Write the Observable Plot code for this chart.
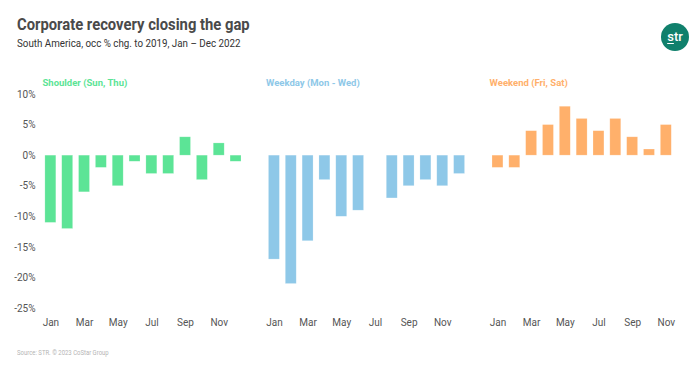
<!DOCTYPE html>
<html>
<head>
<meta charset="utf-8">
<script src="https://cdn.jsdelivr.net/npm/d3@7"></script>
<script src="https://cdn.jsdelivr.net/npm/@observablehq/plot@0.6"></script>
<style>
  html, body { margin: 0; padding: 0; background: #fff; }
  body { width: 699px; height: 369px; position: relative; overflow: hidden; font-family: Roboto, "Noto Sans", sans-serif; }
  .hdr { position: absolute; left: 17px; white-space: nowrap; transform-origin: left center; }
  #title { top: 14px; font-size: 17px; font-weight: 700; color: #4a4a4a; transform: scaleX(0.87); }
  #subtitle { top: 37px; font-size: 11px; color: #333; transform: scaleX(0.89); }
  #source { top: 349px; font-size: 7px; color: #b5b5b5; transform: scaleX(0.85); }
  #logo { position: absolute; left: 661px; top: 23px; width: 28px; height: 28px; border-radius: 50%; background: #10806c; color: #fff; font-size: 13px; font-weight: 500; text-align: center; line-height: 27px; }
  #logo .s { text-decoration: underline; text-underline-offset: 2px; }
  #chart { position: absolute; left: 0; top: 60px; }
</style>
</head>
<body>
<div id="title" class="hdr">Corporate recovery closing the gap</div>
<div id="subtitle" class="hdr">South America, occ % chg. to 2019, Jan – Dec 2022</div>
<div id="logo"><span class="s">s</span>tr</div>
<div id="chart"></div>
<div id="source" class="hdr">Source: STR. © 2023 CoStar Group</div>
<script>
const months = ["Jan","Feb","Mar","Apr","May","Jun","Jul","Aug","Sep","Oct","Nov","Dec"];
const segments = ["Shoulder (Sun, Thu)", "Weekday (Mon - Wed)", "Weekend (Fri, Sat)"];
const colors = ["#5ce496", "#8ec8e8", "#ffb06b"];
const shoulder = [-11, -12, -6, -2, -5, -1, -3, -3, 3, -4, 2, -1];
const weekday  = [-17, -21, -14, -4, -10, -9, null, -7, -5, -4, -5, -3];
const weekend  = [-2, -2, 4, 5, 8, 6, 4, 6, 3, 1, 5, null];
const xTicks = ["Jan","Mar","May","Jul","Sep","Nov"];
const yTicks = [-25, -20, -15, -10, -5, 0, 5, 10];

const series = [shoulder, weekday, weekend];
const rows = [];
series.forEach((vals, i) => {
  vals.forEach((v, j) => {
    if (v !== null) rows.push({segment: segments[i], month: months[j], value: v});
  });
});

const chart = Plot.plot({
  width: 699,
  height: 280,
  marginTop: 34,
  marginBottom: 32,
  marginLeft: 39,
  marginRight: 5,
  style: {fontFamily: "Roboto, sans-serif", fontSize: "10px", color: "#555", background: "#fff"},
  fx: {domain: segments, paddingInner: 0.07, paddingOuter: 0, round: false, axis: null},
  x: {domain: months, padding: 0.35, round: false, label: null, ticks: xTicks, tickSize: 0, tickPadding: 10},
  y: {domain: [-25, 10], ticks: yTicks, tickFormat: d => `${d}%`, tickSize: 0, tickPadding: 4, label: null},
  color: {domain: segments, range: colors},
  marks: [
    Plot.barY(rows, {fx: "segment", x: "month", y: "value", fill: "segment", stroke: "#fff", strokeOpacity: 0.35, strokeWidth: 0.6}),
    Plot.text(segments, {fx: d => d, text: d => d, frameAnchor: "top-left", dx: 3, dy: -12, lineAnchor: "middle",
      fill: d => colors[segments.indexOf(d)], fontWeight: "bold", fontSize: 9.5})
  ]
});
document.getElementById("chart").appendChild(chart);
</script>
</body>
</html>
